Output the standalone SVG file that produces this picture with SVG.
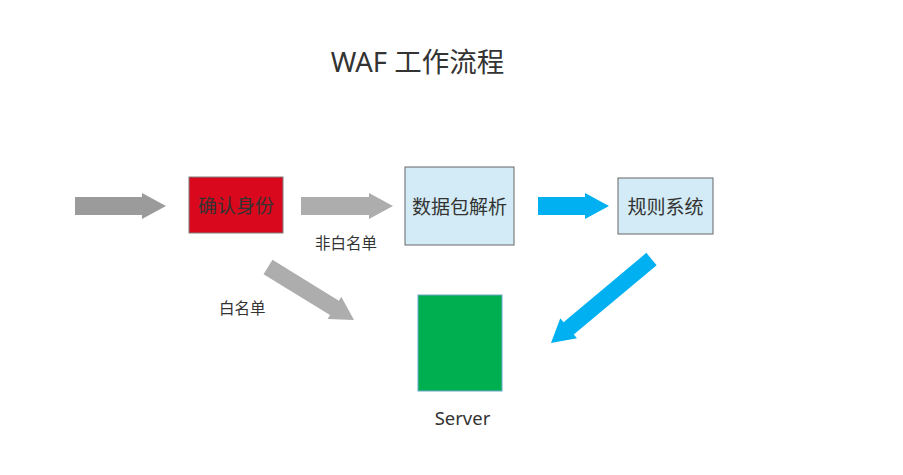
<svg xmlns="http://www.w3.org/2000/svg" width="903" height="475" viewBox="0 0 903 475">
<style>
text{font-family:"Noto Sans","Noto Sans CJK SC",sans-serif;fill:#333}
.lbl{font-size:15.5px}
.node{font-size:19px;text-anchor:middle;dominant-baseline:central}
</style>
<rect width="903" height="475" fill="#fff"/>
<text x="417.5" y="72" font-size="27.5" text-anchor="middle">WAF 工作流程</text>
<g id="connectors">
<polygon points="75,197 142,197 142,193 166,206 142,219 142,215 75,215" fill="#9b9b9b"/>
<polygon points="301,197 369,197 369,193 393,206 369,219 369,215 301,215" fill="#adadad"/>
<polygon points="538,197 585,197 585,193 609,206 585,219 585,215 538,215" fill="#00b0f0"/>
<polygon transform="translate(268,267) rotate(31.6)" points="0,-8.5 78,-8.5 78,-13 101,0 78,13 78,8.5 0,8.5" fill="#adadad"/>
<polygon transform="translate(651.5,259) rotate(140.1)" points="0,-8 108,-8 108,-13 131,0 108,13 108,8 0,8" fill="#00b0f0"/>
<text class="lbl" x="315" y="249">非白名单</text>
<text class="lbl" x="219" y="314">白名单</text>
</g>
<g id="n-auth">
<rect x="189" y="177" width="94" height="56" fill="#d9081d" stroke="#7f7f7f"/>
<text class="node" x="236" y="206">确认身份</text>
</g>
<g id="n-parse">
<rect x="405" y="167" width="109" height="78" fill="#d2ebf6" stroke="#666"/>
<text class="node" x="459.5" y="207">数据包解析</text>
</g>
<g id="n-rules">
<rect x="618" y="178" width="95" height="56" fill="#d2ebf6" stroke="#666"/>
<text class="node" x="665.5" y="207">规则系统</text>
</g>
<g id="n-server">
<rect x="418" y="295" width="84" height="96" fill="#00b050" stroke="#6fa8c8"/>
<text x="462.5" y="425" font-size="18.5" text-anchor="middle">Server</text>
</g>
</svg>
